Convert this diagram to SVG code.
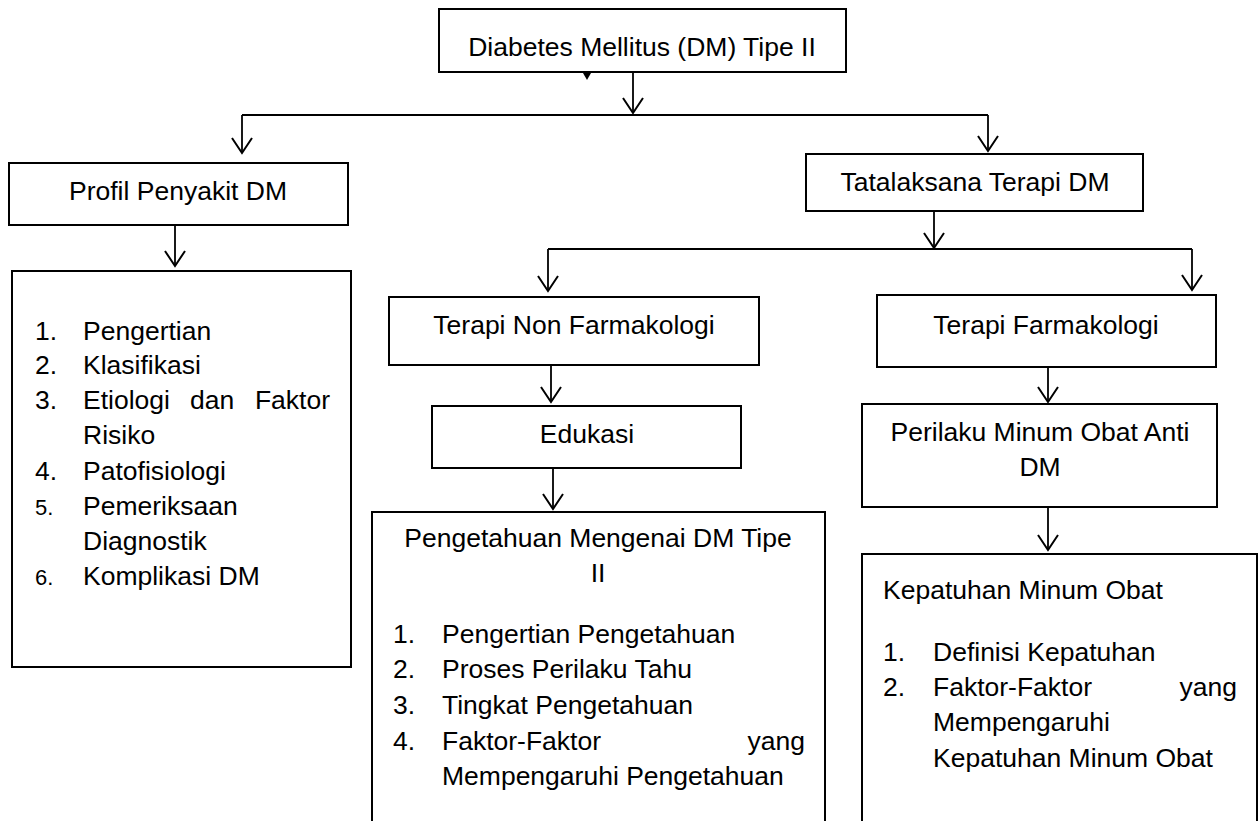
<svg xmlns="http://www.w3.org/2000/svg" width="1260" height="821" viewBox="0 0 1260 821">
<style>
.box{fill:#fff;stroke:#000;stroke-width:2}
.ln{fill:none;stroke:#000;stroke-width:1.8}
.ar{marker-end:url(#arr)}
text{font-family:"Liberation Sans",Arial,sans-serif;font-size:26.5px;fill:#000}
.c{text-anchor:middle}
.e{text-anchor:end}
.sm{font-size:22px}
</style>
<defs>
<marker id="arr" markerUnits="userSpaceOnUse" markerWidth="24" markerHeight="24" viewBox="0 0 24 24" refX="20" refY="12" orient="auto">
<path d="M5,2 L20,12 L5,22" fill="none" stroke="#000" stroke-width="2"/>
</marker>
</defs>
<rect width="1260" height="821" fill="#fff"/>
<g id="connectors">
<path class="ln ar" d="M633,72 L633,113"/>
<path class="ln" d="M242,115 L988,115"/>
<path class="ln ar" d="M242,115 L242,153"/>
<path class="ln ar" d="M988,115 L988,151"/>
<path class="ln ar" d="M175,225 L175,266"/>
<path class="ln ar" d="M934,211 L934,248"/>
<path class="ln" d="M548,249 L1192,249"/>
<path class="ln ar" d="M548,249 L548,291"/>
<path class="ln ar" d="M1192,249 L1192,290"/>
<path class="ln ar" d="M551,365 L551,402"/>
<path class="ln ar" d="M1048,367 L1048,402"/>
<path class="ln ar" d="M553,468 L553,509"/>
<path class="ln ar" d="M1048,507 L1048,550"/>
<path d="M583,73 L591,73 L587,80 Z" fill="#000"/>
</g>
<g id="dm">
<rect class="box" x="439" y="9" width="407" height="63"/>
<text class="c" x="642" y="56">Diabetes Mellitus (DM) Tipe II</text>
</g>
<g id="profil">
<rect class="box" x="9" y="163" width="339" height="62"/>
<text class="c" x="178" y="200">Profil Penyakit DM</text>
</g>
<g id="profil-list">
<rect class="box" x="12" y="271" width="339" height="396"/>
<text x="35" y="340">1.</text><text x="83" y="340">Pengertian</text>
<text x="35" y="374">2.</text><text x="83" y="374">Klasifikasi</text>
<text x="35" y="409">3.</text><text x="83" y="409">Etiologi</text><text x="190" y="409">dan</text><text class="e" x="330" y="409">Faktor</text>
<text x="83" y="444">Risiko</text>
<text x="35" y="480">4.</text><text x="83" y="480">Patofisiologi</text>
<text class="sm" x="35" y="515">5.</text><text x="83" y="515">Pemeriksaan</text>
<text x="83" y="550">Diagnostik</text>
<text class="sm" x="35" y="585">6.</text><text x="83" y="585">Komplikasi DM</text>
</g>
<g id="tatalaksana">
<rect class="box" x="806" y="154" width="337" height="57"/>
<text class="c" x="975" y="191">Tatalaksana Terapi DM</text>
</g>
<g id="nonfarmakologi">
<rect class="box" x="389" y="297" width="370" height="68"/>
<text class="c" x="574" y="334">Terapi Non Farmakologi</text>
</g>
<g id="farmakologi">
<rect class="box" x="877" y="295" width="339" height="72"/>
<text class="c" x="1046" y="334">Terapi Farmakologi</text>
</g>
<g id="edukasi">
<rect class="box" x="432" y="406" width="309" height="62"/>
<text class="c" x="587" y="443">Edukasi</text>
</g>
<g id="perilaku">
<rect class="box" x="862" y="404" width="355" height="103"/>
<text class="c" x="1040" y="441">Perilaku Minum Obat Anti</text>
<text class="c" x="1040" y="476">DM</text>
</g>
<g id="pengetahuan">
<rect class="box" x="372" y="512" width="453" height="320"/>
<text class="c" x="598" y="547">Pengetahuan Mengenai DM Tipe</text>
<text class="c" x="598" y="582">II</text>
<text x="393" y="643">1.</text><text x="442" y="643">Pengertian Pengetahuan</text>
<text x="393" y="678">2.</text><text x="442" y="678">Proses Perilaku Tahu</text>
<text x="393" y="714">3.</text><text x="442" y="714">Tingkat Pengetahuan</text>
<text x="393" y="750">4.</text><text x="442" y="750">Faktor-Faktor</text><text class="e" x="805" y="750">yang</text>
<text x="442" y="785">Mempengaruhi Pengetahuan</text>
</g>
<g id="kepatuhan">
<rect class="box" x="862" y="554" width="395" height="280"/>
<text x="883" y="599">Kepatuhan Minum Obat</text>
<text x="883" y="661">1.</text><text x="933" y="661">Definisi Kepatuhan</text>
<text x="883" y="696">2.</text><text x="933" y="696">Faktor-Faktor</text><text class="e" x="1237" y="696">yang</text>
<text x="933" y="731">Mempengaruhi</text>
<text x="933" y="767">Kepatuhan Minum Obat</text>
</g>
</svg>
